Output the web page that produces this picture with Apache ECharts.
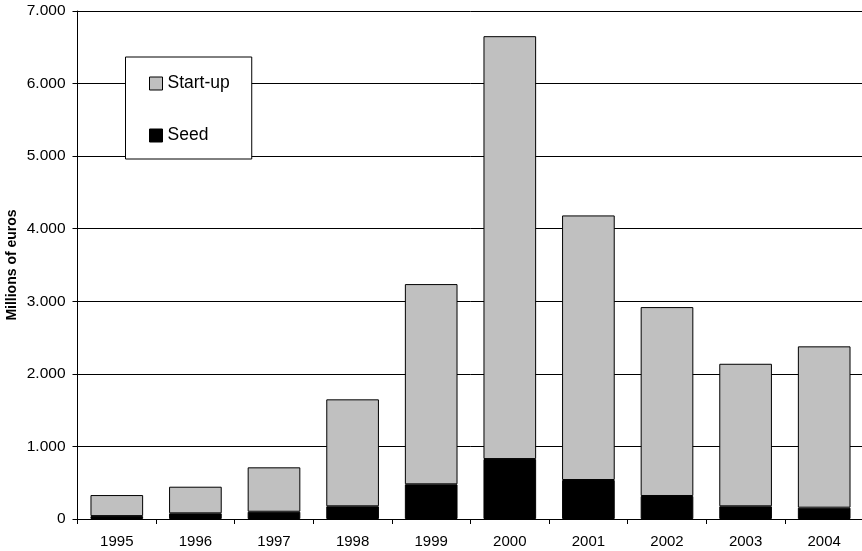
<!DOCTYPE html>
<html>
<head>
<meta charset="utf-8">
<script src="https://cdn.jsdelivr.net/npm/echarts@6/dist/echarts.min.js"></script>
<style>
  html, body { margin: 0; padding: 0; background: #fff; }
  #chart { width: 862px; height: 551px; }
</style>
</head>
<body>
<div id="chart"></div>
<script>
// Venture capital investment by stage, millions of euros
const years = ['1995', '1996', '1997', '1998', '1999', '2000', '2001', '2002', '2003', '2004'];
const seed = [40, 78, 100, 175, 478, 826, 537, 317, 175, 156];
const startUp = [290, 367, 612, 1474, 2759, 5827, 3646, 2603, 1964, 2223];
const yTicks = { min: 0, max: 7000, interval: 1000 };

const font = 'Liberation Sans, Arial, sans-serif';

// Thousands separator as a dot: 7000 -> "7.000"
function fmt(v) {
  return String(v).replace(/\B(?=(\d{3})+(?!\d))/g, '.');
}

const chart = echarts.init(document.getElementById('chart'), null, { renderer: 'canvas' });
chart.setOption({
  animation: false,
  backgroundColor: '#fff',
  textStyle: { fontFamily: font, color: '#000' },
  grid: { left: 77.5, right: -1.5, top: 11, bottom: 32, containLabel: false, outerBoundsMode: 'none' },
  legend: {
    data: ['Start-up', 'Seed'],
    orient: 'vertical',
    left: 125.5,
    top: 57,
    padding: [17.5, 22, 14.5, 23.5],
    itemGap: 34,
    itemWidth: 13,
    itemHeight: 13,
    icon: 'rect',
    itemStyle: { borderColor: '#000', borderWidth: 1 },
    backgroundColor: '#fff',
    borderColor: '#000',
    borderWidth: 1,
    borderRadius: 0,
    textStyle: { fontFamily: font, fontSize: 17.5, lineHeight: 17, color: '#000' }
  },
  xAxis: {
    type: 'category',
    data: years,
    boundaryGap: true,
    axisLine: { lineStyle: { color: '#000', width: 1 } },
    axisTick: { show: true, length: 5, lineStyle: { color: '#000' } },
    axisLabel: { fontFamily: font, fontSize: 15, color: '#000', margin: 15 },
    splitLine: { show: false }
  },
  yAxis: {
    type: 'value',
    min: yTicks.min,
    max: yTicks.max,
    interval: yTicks.interval,
    name: 'Millions of euros',
    nameLocation: 'middle',
    nameGap: 58,
    nameMoveOverlap: false,
    nameRotate: 90,
    nameTextStyle: { fontFamily: font, fontSize: 14, fontWeight: 'bold', color: '#000' },
    axisLine: { show: true, lineStyle: { color: '#000', width: 1 } },
    axisTick: { show: true, length: 5, lineStyle: { color: '#000' } },
    axisLabel: { fontFamily: font, fontSize: 15.5, color: '#000', margin: 12, formatter: fmt },
    splitLine: { show: true, lineStyle: { color: '#000', width: 1 } }
  },
  series: [
    {
      name: 'Seed',
      type: 'bar',
      stack: 'total',
      data: seed,
      barCategoryGap: '33%',
      itemStyle: { color: '#000', borderColor: '#000', borderWidth: 1 }
    },
    {
      name: 'Start-up',
      type: 'bar',
      stack: 'total',
      data: startUp,
      barCategoryGap: '33%',
      itemStyle: { color: '#c0c0c0', borderColor: '#000', borderWidth: 1 }
    }
  ]
});
</script>
</body>
</html>
